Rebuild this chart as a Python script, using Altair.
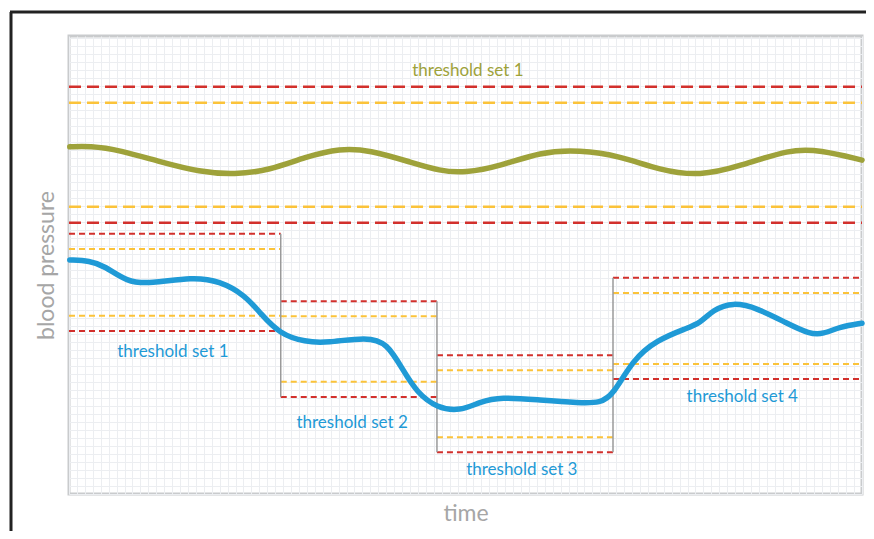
import altair as alt
import pandas as pd

# ---- data (time 0-100, pressure 0-100) ----
olive_t = [0.1, 2.6, 6.4, 11.5, 16.5, 20.9, 25.3, 29.8, 34.2, 37.9, 43.0, 46.8, 49.9,
           54.4, 59.4, 64.4, 69.5, 74.5, 79.6, 84.6, 90.9, 94.7, 100]
olive_p = [75.8, 76.0, 75.1, 72.5, 70.3, 69.7, 70.7, 73.6, 75.5, 75.1, 72.5, 70.5, 70.1,
           71.6, 74.7, 75.1, 73.8, 70.7, 69.4, 71.6, 75.3, 75.1, 72.9]

blue_t = [0.1, 2.6, 4.5, 7.3, 10.2, 15.6, 19.0, 22.2, 24.1, 26.6, 29.8, 32.5, 37.6, 40.1,
          42.1, 43.9, 46.4, 49.3, 51.8, 54.4, 59.4, 64.4, 67.0, 68.6, 71.1, 74.1, 77.9,
          79.6, 81.2, 83.7, 86.8, 90.5, 93.4, 95.1, 97.2, 100]
blue_p = [51.1, 50.9, 49.8, 46.3, 45.9, 47.4, 46.5, 43.4, 39.5, 34.9, 33.2, 33.0, 34.3, 33.0,
          27.1, 22.1, 18.8, 18.1, 20.1, 21.2, 20.5, 19.9, 19.9, 21.6, 29.3, 33.6, 36.2,
          37.3, 40.2, 41.9, 40.6, 37.3, 34.9, 34.9, 36.5, 37.3]

# olive (global) thresholds
olive_red = [88.9, 59.2]
olive_yellow = [85.4, 62.7]
olive_label = "threshold set 1"
olive_label_pos = (50.3, 92.4)

# blue threshold sets
set_names = ["threshold set 1", "threshold set 2", "threshold set 3", "threshold set 4"]
set_start = [0, 26.7, 46.4, 68.6]
set_end = [26.7, 46.4, 68.6, 100]
set_red_hi = [56.8, 42.1, 30.3, 47.2]
set_yellow_hi = [53.5, 38.8, 27.0, 43.9]
set_yellow_lo = [38.9, 24.5, 12.4, 28.4]
set_red_lo = [35.6, 21.2, 9.1, 25.1]
set_label_t = [13.1, 35.7, 57.1, 84.9]
set_label_p = [31.0, 15.5, 5.2, 21.2]

RED = "#d2302c"
YELLOW = "#fbc33a"
OLIVE = "#9ea23a"
BLUE = "#1f9ad6"
GREY_TXT = "#a6a6a6"
FONT = "Lato"

xs = alt.Scale(domain=[0, 100], nice=False, zero=False)
ys = alt.Scale(domain=[0, 100], nice=False, zero=False)

# ---- tables ----
olive_df = pd.DataFrame({"t": olive_t, "p": olive_p})
blue_df = pd.DataFrame({"t": blue_t, "p": blue_p})

olive_thr = pd.DataFrame({
    "t": [0] * 4, "t2": [100] * 4,
    "p": olive_red + olive_yellow,
    "kind": ["red", "red", "yellow", "yellow"],
})

rows = []
for i in range(4):
    for v, k in [(set_red_hi[i], "red"), (set_yellow_hi[i], "yellow"),
                 (set_yellow_lo[i], "yellow"), (set_red_lo[i], "red")]:
        rows.append({"t": set_start[i], "t2": set_end[i], "p": v, "kind": k})
set_thr = pd.DataFrame(rows)

vrows = []
for i in range(1, 4):
    vrows.append({"t": set_start[i],
                  "p": max(set_red_hi[i - 1], set_red_hi[i]),
                  "p2": min(set_red_lo[i - 1], set_red_lo[i])})
vert_df = pd.DataFrame(vrows)

labels_df = pd.DataFrame({"t": set_label_t, "p": set_label_p, "label": set_names})
olive_lab_df = pd.DataFrame({"t": [olive_label_pos[0]], "p": [olive_label_pos[1]], "label": [olive_label]})

color_scale = alt.Scale(domain=["red", "yellow"], range=[RED, YELLOW])

x_grid = list(range(0, 101))
y_grid = [round(i * 1.747, 3) for i in range(58)]


def X():
    return alt.X("t:Q", scale=xs, title="time", axis=alt.Axis(values=x_grid))


def Y():
    return alt.Y("p:Q", scale=ys, title="blood pressure", axis=alt.Axis(values=y_grid))


# ---- layers ----
olive_line = alt.Chart(olive_df).mark_line(
    color=OLIVE, strokeWidth=5.5, interpolate="basis", strokeCap="round"
).encode(x=X(), y=Y())

olive_thr_layer = alt.Chart(olive_thr).mark_rule(strokeWidth=2.5, strokeDash=[12, 6]).encode(
    x=X(), x2="t2:Q", y=Y(),
    color=alt.Color("kind:N", scale=color_scale, legend=None),
)

set_thr_layer = alt.Chart(set_thr).mark_rule(strokeWidth=2, strokeDash=[6, 4]).encode(
    x=X(), x2="t2:Q", y=Y(),
    color=alt.Color("kind:N", scale=color_scale, legend=None),
)

vert_layer = alt.Chart(vert_df).mark_rule(color="#9a9a9a", strokeWidth=1.5).encode(
    x=X(), y=Y(), y2="p2:Q",
)

blue_line = alt.Chart(blue_df).mark_line(
    color=BLUE, strokeWidth=5.5, interpolate="basis", strokeCap="round"
).encode(x=X(), y=Y())

blue_labels = alt.Chart(labels_df).mark_text(font=FONT, fontSize=17, color=BLUE).encode(
    x=X(), y=Y(), text="label:N",
)

olive_text = alt.Chart(olive_lab_df).mark_text(font=FONT, fontSize=17, color=OLIVE).encode(
    x=X(), y=Y(), text="label:N",
)

# decorative frame (top and left black lines of the original figure)
frame_left = alt.Chart(pd.DataFrame({"a": [0]})).mark_rule(color="#222222", strokeWidth=3, clip=False).encode(
    x=alt.value(-58), y=alt.value(-24), y2=alt.value(503))
frame_top = alt.Chart(pd.DataFrame({"a": [0]})).mark_rule(color="#222222", strokeWidth=3, clip=False).encode(
    x=alt.value(-59), x2=alt.value(810), y=alt.value(-24))

chart = alt.layer(
    olive_line, olive_thr_layer, set_thr_layer, vert_layer, blue_line,
    blue_labels, olive_text, frame_left, frame_top
).properties(
    width=793, height=458,
    padding={"left": 61, "top": 28, "right": 4, "bottom": 37},
    autosize=alt.AutoSizeParams(type="none"),
    background="white",
).configure_axis(
    labels=False, ticks=False, domain=False, grid=True,
    gridColor="#eceef1", gridWidth=1,
    titleFont=FONT, titleFontSize=23, titleFontWeight="normal", titleColor=GREY_TXT,
).configure_axisX(titlePadding=8).configure_axisY(titlePadding=11).configure_view(
    stroke="#c9cbcd", strokeWidth=3
)

chart.save("out.html", embed_options={"renderer": "svg", "actions": False})
